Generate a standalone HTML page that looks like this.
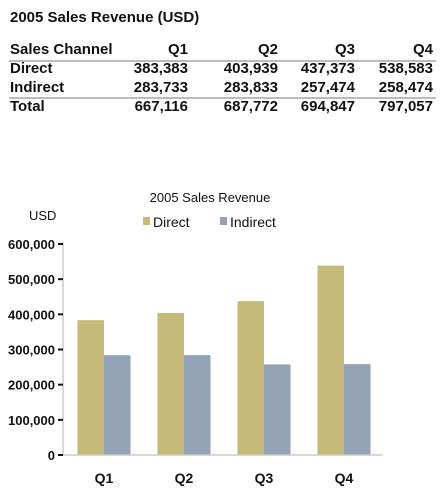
<!DOCTYPE html>
<html><head><meta charset="utf-8"><style>
body{margin:0;width:445px;height:493px;background:#fff;font-family:"Liberation Sans",Arial,sans-serif;overflow:hidden;position:relative}
.t{position:absolute;font-weight:bold;font-size:15px;color:#111;white-space:nowrap}
.r{text-align:right}
.line{position:absolute;left:9px;width:427px;height:2px;background:#bbb}
</style></head><body>
<div class="t" style="left:10px;top:9px;font-size:15px">2005 Sales Revenue (USD)</div>
<div>
<div class="t" style="left:10px;top:41px">Sales Channel</div>
<div class="t r" style="right:257px;top:41px">Q1</div>
<div class="t r" style="right:167px;top:41px">Q2</div>
<div class="t r" style="right:90px;top:41px">Q3</div>
<div class="t r" style="right:12px;top:41px">Q4</div>
<div class="line" style="top:60px"></div>
<div class="t" style="left:10px;top:60px">Direct</div>
<div class="t r" style="right:257px;top:60px">383,383</div>
<div class="t r" style="right:167px;top:60px">403,939</div>
<div class="t r" style="right:90px;top:60px">437,373</div>
<div class="t r" style="right:12px;top:60px">538,583</div>
<div class="t" style="left:10px;top:79px">Indirect</div>
<div class="t r" style="right:257px;top:79px">283,733</div>
<div class="t r" style="right:167px;top:79px">283,833</div>
<div class="t r" style="right:90px;top:79px">257,474</div>
<div class="t r" style="right:12px;top:79px">258,474</div>
<div class="line" style="top:97px"></div>
<div class="t" style="left:10px;top:98px">Total</div>
<div class="t r" style="right:257px;top:98px">667,116</div>
<div class="t r" style="right:167px;top:98px">687,772</div>
<div class="t r" style="right:90px;top:98px">694,847</div>
<div class="t r" style="right:12px;top:98px">797,057</div>
</div>
<svg id="chart" width="445" height="493" style="position:absolute;left:0;top:0" font-family="Liberation Sans, Arial, sans-serif"></svg>
<script>
const categories=["Q1","Q2","Q3","Q4"];
const directValues=[383383,403939,437373,538583];
const indirectValues=[283733,283833,257474,258474];
const yTicks=[0,100000,200000,300000,400000,500000,600000];
const NS="http://www.w3.org/2000/svg";
const svg=document.getElementById("chart");
const x0=63,x1=383,yBase=455,yTop=244,yMax=600000;
const y=v=>yBase-(v/yMax)*(yBase-yTop);
const band=(x1-x0)/categories.length;
const cx=i=>x0+band*(i+0.5)+1;
const bw=26.5;
function mk(tag,attrs,text){const e=document.createElementNS(NS,tag);for(const k in attrs)e.setAttribute(k,attrs[k]);if(text!==undefined)e.textContent=text;svg.appendChild(e);return e;}
let e;
e=mk("text",{x:210,y:202,"text-anchor":"middle","font-size":13,fill:"#111"},"2005 Sales Revenue");


e=mk("text",{x:29,y:220,"font-size":13,fill:"#111"},"USD");


e=mk("rect",{x:143,y:217,width:7,height:8,fill:"#c6ba7a"});


e=mk("text",{x:153,y:227,"font-size":14,fill:"#111"},"Direct");


e=mk("rect",{x:220,y:217,width:7,height:8,fill:"#94a2b5"});


e=mk("text",{x:230,y:227,"font-size":14,fill:"#111"},"Indirect");


e=mk("line",{x1:x0,y1:yTop-2,x2:x0,y2:yBase,stroke:"#ccc","stroke-width":1.5});


yTicks.forEach(t=>{
  e=mk("line",{x1:58,x2:x0,y1:y(t),y2:y(t),stroke:"#111","stroke-width":2});
  
  
  e=mk("text",{x:55,y:y(t)+5,"text-anchor":"end","font-size":13,"font-weight":"bold",fill:"#111"},t.toLocaleString("en-US"));
  
  
});
categories.forEach((c,i)=>{
  e=mk("rect",{x:cx(i)-bw,y:y(directValues[i]),width:bw,height:yBase-y(directValues[i]),fill:"#c6ba7a"});
  
  
  e=mk("rect",{x:cx(i),y:y(indirectValues[i]),width:bw,height:yBase-y(indirectValues[i]),fill:"#94a2b5"});
  
  
  e=mk("text",{x:cx(i),y:483,"text-anchor":"middle","font-size":14,"font-weight":"bold",fill:"#111"},c);
  
  
});
e=mk("line",{x1:x0,y1:yBase,x2:x1,y2:yBase,stroke:"#ccc","stroke-width":1.5});


</script>
</body></html>
